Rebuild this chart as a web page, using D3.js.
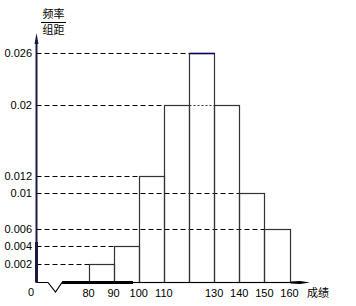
<!DOCTYPE html>
<html><head><meta charset="utf-8">
<script src="https://cdn.jsdelivr.net/npm/d3@7"></script>
<style>html,body{margin:0;padding:0;background:#fff;}svg{display:block;}</style>
</head><body>
<svg id="c" width="356" height="306"></svg>
<script>
// data
const binStarts = [80, 90, 100, 110, 120, 130, 140, 150];
const binWidth = 10;
const densities = [0.002, 0.004, 0.012, 0.02, 0.026, 0.02, 0.01, 0.006];
const xTickValues = [80, 90, 100, 110, 130, 140, 150, 160];
const yTickValues = [0.002, 0.004, 0.006, 0.01, 0.012, 0.02, 0.026];
const yTickLabels = ["0.002", "0.004", "0.006", "0.01", "0.012", "0.02", "0.026"];
// dashed guide for each y tick ends at this x value
const guideEnds = [80, 90, 150, 140, 100, 110, 120];

const svg = d3.select("#c");
const x = d3.scaleLinear().domain([80, 160]).range([88.5, 289.5]);
const y = d3.scaleLinear().domain([0, 0.026]).range([281.5, 52.5]);
const px = v => Math.round(x(v)) + 0.5;
const py = v => Math.round(y(v)) + 0.5;
const x0 = 36.5, base = py(0);
const font = "'Liberation Sans', Arial, sans-serif";
const ink = "#333";

// dashed guides
svg.append("g").selectAll("line").data(yTickValues).join("line")
  .attr("x1", x0).attr("x2", (d, i) => px(guideEnds[i]))
  .attr("y1", d => py(d)).attr("y2", d => py(d))
  .attr("stroke", "#000").attr("stroke-width", 1).attr("stroke-dasharray", "5,3");

// bars
svg.append("g").selectAll("rect").data(binStarts).join("rect")
  .attr("x", d => px(d)).attr("width", d => px(d + binWidth) - px(d))
  .attr("y", (d, i) => py(densities[i])).attr("height", (d, i) => base - py(densities[i]))
  .attr("fill", "none").attr("stroke", ink).attr("stroke-width", 1.2);

// top of tallest bar in navy
const imax = densities.indexOf(d3.max(densities));
svg.append("line").attr("x1", px(binStarts[imax])).attr("x2", px(binStarts[imax] + binWidth))
  .attr("y1", py(densities[imax])).attr("y2", py(densities[imax]))
  .attr("stroke", "#000066").attr("stroke-width", 1.5);

// dotted line across tallest bar at 0.02
svg.append("line").attr("x1", px(120)).attr("x2", px(130))
  .attr("y1", py(0.02)).attr("y2", py(0.02))
  .attr("stroke", ink).attr("stroke-width", 1).attr("stroke-dasharray", "2,2");

// x axis with break
svg.append("path")
  .attr("d", `M${x0},${base}L48,${base}L55.5,292L62,${base}L${px(160)},${base}`)
  .attr("fill", "none").attr("stroke", "#000").attr("stroke-width", 1.2);
svg.append("line").attr("x1", 62).attr("x2", 133).attr("y1", base).attr("y2", base)
  .attr("stroke", "#000").attr("stroke-width", 3);
// arrow
svg.append("path").attr("d", `M${px(160)},${base - 1}L300,${base - 1.5}L310,${base}L300,${base + 1.5}L${px(160)},${base + 1}Z`)
  .attr("fill", "#000");

// y axis
svg.append("line").attr("x1", x0).attr("x2", x0).attr("y1", 40).attr("y2", base)
  .attr("stroke", "#1a1a40").attr("stroke-width", 2);
svg.append("line").attr("x1", x0).attr("x2", x0).attr("y1", 242).attr("y2", base)
  .attr("stroke", "#1a1a40").attr("stroke-width", 3);
svg.append("path").attr("d", `M${x0 - 2},44L${x0},33L${x0 + 2},44Z`).attr("fill", "#1a1a40");

// y labels
svg.append("g").selectAll("text").data(yTickValues).join("text")
  .attr("x", 32).attr("y", d => y(d) + 4).attr("text-anchor", "end")
  .attr("font-family", font).attr("font-size", 11).attr("fill", "#000")
  .text((d, i) => yTickLabels[i]);
svg.append("text").attr("x", 31).attr("y", 296).attr("text-anchor", "middle")
  .attr("font-family", font).attr("font-size", 11).text("0");

// x labels
svg.append("g").selectAll("text").data(xTickValues).join("text")
  .attr("x", d => x(d)).attr("y", 297).attr("text-anchor", "middle")
  .attr("font-family", font).attr("font-size", 11).attr("fill", "#000")
  .text(d => d);
svg.append("text").attr("x", 307).attr("y", 297)
  .attr("font-family", "'Noto Sans CJK SC', sans-serif").attr("font-size", 11).text("成绩");

// y title fraction
svg.append("text").attr("x", 53.5).attr("y", 18).attr("text-anchor", "middle")
  .attr("font-family", "'Noto Sans CJK SC', sans-serif").attr("font-size", 11).text("频率");
svg.append("line").attr("x1", 41).attr("x2", 66).attr("y1", 22.5).attr("y2", 22.5)
  .attr("stroke", "#000").attr("stroke-width", 1);
svg.append("text").attr("x", 53.5).attr("y", 34).attr("text-anchor", "middle")
  .attr("font-family", "'Noto Sans CJK SC', sans-serif").attr("font-size", 11).text("组距");
</script>
</body></html>
